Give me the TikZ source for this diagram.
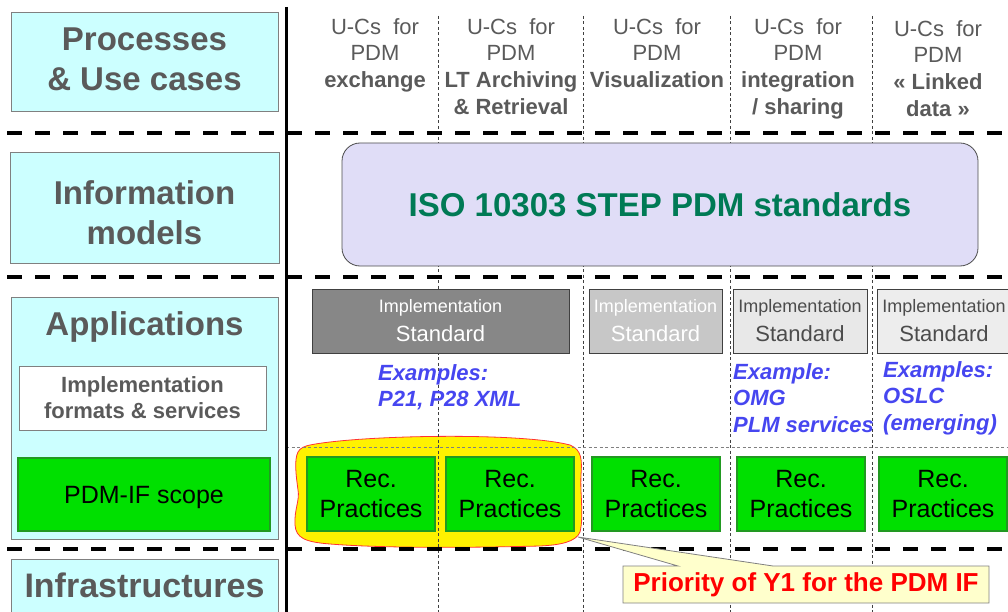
\documentclass[tikz,border=0pt]{standalone}
\usepackage{fontspec}
\setmainfont{Liberation Sans}
\usepackage{xcolor}
\usepackage{tikz}

\definecolor{layerfill}{HTML}{CCFFFF}
\definecolor{layertext}{HTML}{5A5A5A}
\definecolor{isofill}{HTML}{E0DDF7}
\definecolor{isotext}{HTML}{007A55}
\definecolor{recgreen}{HTML}{00E000}
\definecolor{recborder}{HTML}{229922}
\definecolor{exblue}{HTML}{4646F0}
\definecolor{callfill}{HTML}{FFFFCC}

\tikzset{
  layerbox/.style={draw=gray, fill=layerfill, line width=0.8pt, inner sep=0pt},
  layerlabel/.style={text=layertext, font=\bfseries\fontsize{33}{40}\selectfont, align=center, inner sep=0pt},
  ucase/.style={text=layertext, font=\fontsize{22}{26.7}\selectfont, align=center, anchor=north, inner sep=0pt},
  implstd/.style={draw=black!75, line width=0.8pt, minimum height=64pt, align=center, inner sep=0pt, font=\fontsize{22}{27}\selectfont},
  recbox/.style={draw=recborder, fill=recgreen, line width=2pt, minimum width=128pt, minimum height=74pt, align=center, inner sep=0pt, font=\fontsize{25}{30}\selectfont},
  example/.style={text=exblue, font=\bfseries\itshape\fontsize{22}{26.7}\selectfont, align=left, anchor=north west, inner sep=0pt},
  thickdash/.style={line width=4pt, dash pattern=on 15pt off 13pt},
  colsep/.style={line width=0.7pt, black!75, dash pattern=on 3pt off 2.5pt},
}

\begin{document}
\begin{tikzpicture}[x=1pt, y=-1pt]
  \useasboundingbox (0,0) rectangle (1008,612);
  % ---- layer names ----
  \node[layerbox, minimum width=267pt, minimum height=99pt] (procbox) at (144.5,61.5) {};
  \node[layerlabel, anchor=north] (proctext) at (144.5,28) {Processes\\\& Use cases};
  \node[layerbox, minimum width=269pt, minimum height=111pt] (infobox) at (144.5,207.5) {};
  \node[layerlabel, anchor=north] (infotext) at (144.5,180) {Information\\models};
  \node[layerbox, minimum width=267pt, minimum height=242pt] (appbox) at (144.5,418) {};
  \node[layerlabel, anchor=base] (apptext) at (144.5,335) {Applications};
  \node[draw=gray, fill=white, line width=0.8pt, minimum width=247pt, minimum height=64pt,
        text=layertext, font=\bfseries\fontsize{22}{26}\selectfont, align=center] (fmtbox) at (142.5,398) {Implementation\\formats \& services};
  \node[draw=recborder, fill=recgreen, line width=2pt, minimum width=252pt, minimum height=73pt,
        text depth=0pt, font=\fontsize{25}{30}\selectfont] (scopebox) at (144,494.5) {PDM-IF scope};
  \node[layerbox, minimum width=267pt, minimum height=56pt] (infrabox) at (144.5,587) {};
  \node[layerlabel, anchor=base, font=\bfseries\fontsize{34}{40}\selectfont] (infratext) at (144.5,597) {Infrastructures};

  % ---- priority zone ----
  \fill[yellow, draw=red!80, line width=0.8pt]
    (310,445) .. controls (360,435) and (520,432) .. (570,445)
    .. controls (582,450) and (582,460) .. (581,475)
    .. controls (580,495) and (584,515) .. (580,532)
    .. controls (576,542) and (560,545) .. (540,546)
    .. controls (460,548) and (380,548) .. (330,544)
    .. controls (305,542) and (296,538) .. (295,525)
    .. controls (294,510) and (300,500) .. (298,490)
    .. controls (296,475) and (294,460) .. (298,452)
    .. controls (300,448) and (305,446) .. (310,445) -- cycle;

  % ---- grid ----
  \foreach \x in {438,583,730,872}
    \draw[colsep] (\x,16) -- (\x,612);
  \draw[colsep, black!50] (286,447) -- (1008,447);
  \foreach \y in {133,277,549}
    \draw[thickdash] (7,\y) -- (1008,\y);
  \draw[line width=3pt] (286,7) -- (286,612);

  % ---- use cases ----
  \node[ucase] (uc1) at (375,18) {U-Cs~ for\\PDM\\\textbf{exchange}};
  \node[ucase] (uc2) at (511,18) {U-Cs~ for\\PDM\\\textbf{LT Archiving}\\\textbf{\& Retrieval}};
  \node[ucase] (uc3) at (657,18) {U-Cs~ for\\PDM\\\textbf{Visualization}};
  \node[ucase] (uc4) at (798,18) {U-Cs~ for\\PDM\\\textbf{integration}\\\textbf{/ sharing}};
  \node[ucase] (uc5) at (938,20) {U-Cs~ for\\PDM\\\textbf{« Linked}\\\textbf{data »}};

  % ---- information model ----
  \node[draw=black!70, fill=isofill, line width=0.8pt, rounded corners=18pt,
        minimum width=636pt, minimum height=123pt, text=isotext,
        font=\bfseries\fontsize{33}{40}\selectfont] (iso) at (660,204.5) {ISO 10303 STEP PDM standards};

  % ---- implementation standards ----
  \node[implstd, fill=black!47, text=white, minimum width=257pt] (std1) at (440.5,321)
    {{\fontsize{18}{27}\selectfont Implementation}\\[2pt]Standard};
  \node[implstd, fill=black!22, text=white, minimum width=133pt] (std2) at (655.5,321)
    {{\fontsize{18}{27}\selectfont Implementation}\\[2pt]Standard};
  \node[implstd, fill=black!9, text=black!70, minimum width=134pt] (std3) at (800,321)
    {{\fontsize{18}{27}\selectfont Implementation}\\[2pt]Standard};
  \node[implstd, fill=black!7, text=black!70, minimum width=134pt] (std4) at (944,321)
    {{\fontsize{18}{27}\selectfont Implementation}\\[2pt]Standard};
  \node[example] (ex1) at (378,364) {Examples:\\P21, P28 XML};
  \node[example] (ex3) at (733,363) {Example:\\OMG\\PLM services};
  \node[example] (ex4) at (883,361) {Examples:\\OSLC\\(emerging)};

  % ---- recommended practices ----
  \node[recbox] (rec1) at (371,494) {Rec.\\Practices};
  \node[recbox] (rec2) at (510,494) {Rec.\\Practices};
  \node[recbox] (rec3) at (656,494) {Rec.\\Practices};
  \node[recbox] (rec4) at (801,494) {Rec.\\Practices};
  \node[recbox] (rec5) at (943,494) {Rec.\\Practices};

  % ---- callout ----
  \coordinate (tip) at (578,537);
  \filldraw[fill=callfill, draw=black!50, line width=0.8pt]
    (623,566) -- (678,566) -- (tip) -- (773,566) -- (989,566) -- (989,603) -- (623,603) -- cycle;
  \node[text=red, font=\bfseries\fontsize{26}{30}\selectfont] (prio) at (806,584.5) {Priority of Y1 for the PDM IF};
\end{tikzpicture}
\end{document}
